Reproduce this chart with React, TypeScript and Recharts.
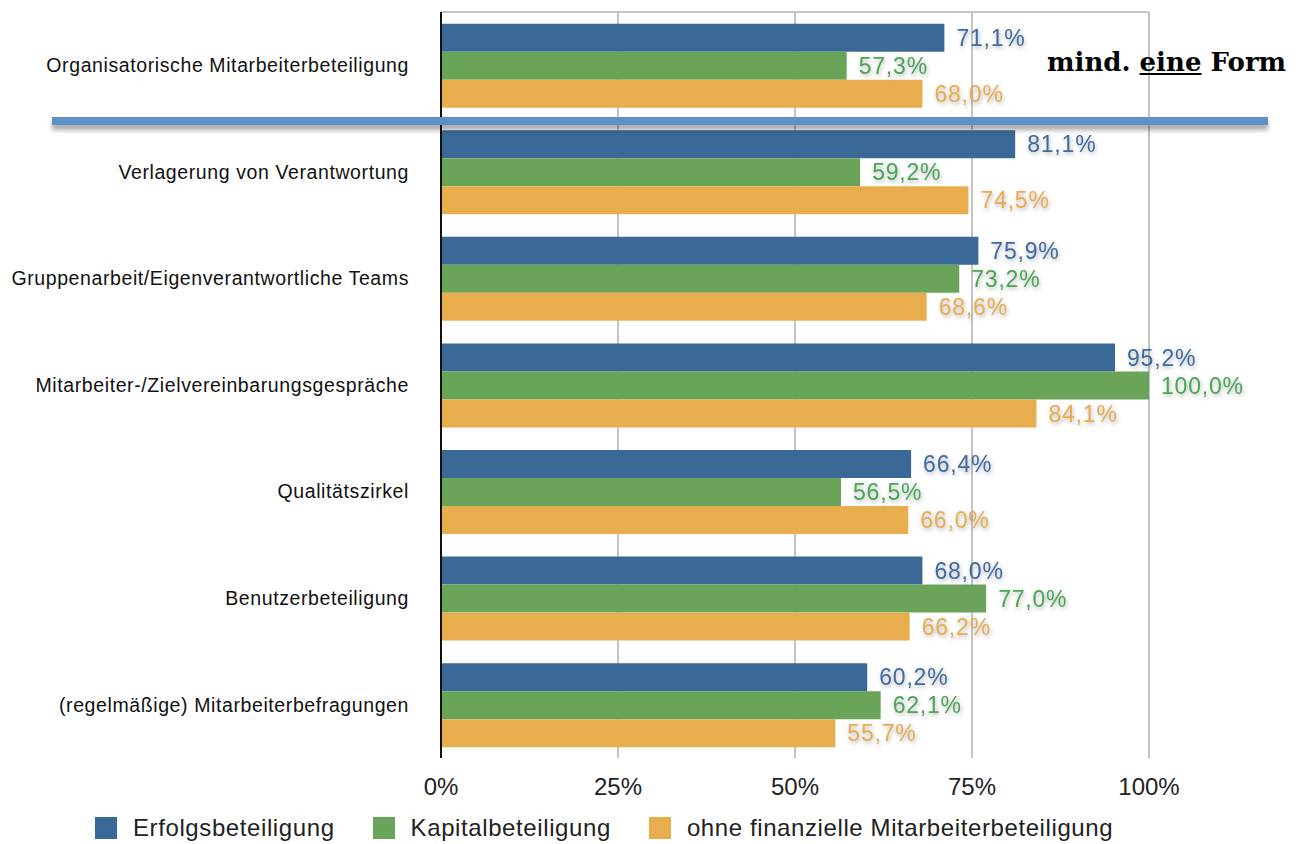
import {
  BarChart,
  Bar,
  XAxis,
  YAxis,
  CartesianGrid,
  Legend,
  LabelList,
} from 'recharts';

const categories = [
  'Organisatorische Mitarbeiterbeteiligung',
  'Verlagerung von Verantwortung',
  'Gruppenarbeit/Eigenverantwortliche Teams',
  'Mitarbeiter-/Zielvereinbarungsgespräche',
  'Qualitätszirkel',
  'Benutzerbeteiligung',
  '(regelmäßige) Mitarbeiterbefragungen',
];

const erfolg = [71.1, 81.1, 75.9, 95.2, 66.4, 68.0, 60.2];
const kapital = [57.3, 59.2, 73.2, 100.0, 56.5, 77.0, 62.1];
const ohne = [68.0, 74.5, 68.6, 84.1, 66.0, 66.2, 55.7];

const xTicks = [0, 25, 50, 75, 100];

const series = [
  { key: 'erfolg', name: 'Erfolgsbeteiligung', fill: '#3b6997', text: '#3d6ca3' },
  { key: 'kapital', name: 'Kapitalbeteiligung', fill: '#6aa459', text: '#4aa653' },
  { key: 'ohne', name: 'ohne finanzielle Mitarbeiterbeteiligung', fill: '#e8ae4e', text: '#e9ad50' },
];

const data = categories.map((name, i) => ({
  name,
  erfolg: erfolg[i],
  kapital: kapital[i],
  ohne: ohne[i],
}));

const fmt = (v: number) => `${v.toFixed(1).replace('.', ',')}%`;

const FONT = '"Liberation Sans", Arial, sans-serif';

function LegendContent() {
  return (
    <div
      style={{
        display: 'flex',
        alignItems: 'center',
        paddingLeft: 95,
        paddingTop: 14,
        fontFamily: FONT,
        fontSize: 24,
        letterSpacing: 0.6,
        color: '#222',
        whiteSpace: 'nowrap',
      }}
    >
      {series.map((s) => (
        <div key={s.key} style={{ display: 'flex', alignItems: 'center', marginRight: 38, flexShrink: 0 }}>
          <span style={{ width: 22, height: 22, background: s.fill, display: 'inline-block', marginRight: 16 }} />
          <span>{s.name}</span>
        </div>
      ))}
    </div>
  );
}

export default function App() {
  return (
    <div style={{ position: 'absolute', left: 0, top: 0, width: 1301, height: 844, background: '#fff' }}>
      <BarChart
        width={1301}
        height={844}
        data={data}
        layout="vertical"
        margin={{ top: 12, right: 152, left: 0, bottom: 0 }}
        barCategoryGap="11%"
        barGap={0}
      >
        <CartesianGrid
          horizontal={true}
          vertical={true}
          horizontalPoints={[12]}
          stroke="#c4c4c4"
          strokeWidth={2}
        />
        <XAxis
          type="number"
          domain={[0, 100]}
          ticks={xTicks}
          tickFormatter={(v: number) => `${v}%`}
          axisLine={false}
          tickLine={false}
          height={42}
          tickMargin={14}
          tick={{ fontSize: 24, fill: '#222', fontFamily: FONT }}
        />
        <YAxis
          type="category"
          dataKey="name"
          width={441}
          axisLine={{ stroke: '#111', strokeWidth: 2 }}
          tickLine={false}
          tickMargin={26}
          interval={0}
          tick={{ fontSize: 19.5, fill: '#111', fontFamily: FONT, letterSpacing: 0.6 }}
        />
        <Legend
          verticalAlign="bottom"
          height={44}
          width={1301}
          wrapperStyle={{ left: 0, width: 1301 }}
          content={<LegendContent />}
        />
        {series.map((s) => (
          <Bar key={s.key} dataKey={s.key} name={s.name} fill={s.fill} isAnimationActive={false}>
            <LabelList
              dataKey={s.key}
              position="right"
              offset={12}
              formatter={(v: number) => fmt(v)}
              style={{
                fontSize: 23,
                letterSpacing: 0.8,
                fill: s.text,
                fontFamily: FONT,
                filter: 'drop-shadow(1px 2px 2px rgba(0,0,0,0.3))',
              }}
            />
          </Bar>
        ))}
      </BarChart>
      <div
        style={{
          position: 'absolute',
          left: 52,
          top: 117,
          width: 1216,
          height: 8,
          background: '#5b90c8',
          boxShadow: '0 5px 5px rgba(0,0,0,0.35)',
        }}
      />
      <div
        style={{
          position: 'absolute',
          left: 1047,
          top: 47,
          fontFamily: '"DejaVu Serif", "Liberation Serif", serif',
          fontWeight: 'bold',
          fontSize: 26,
          color: '#000',
          whiteSpace: 'nowrap',
        }}
      >
        mind. <span style={{ textDecoration: 'underline' }}>eine</span> Form
      </div>
    </div>
  );
}
